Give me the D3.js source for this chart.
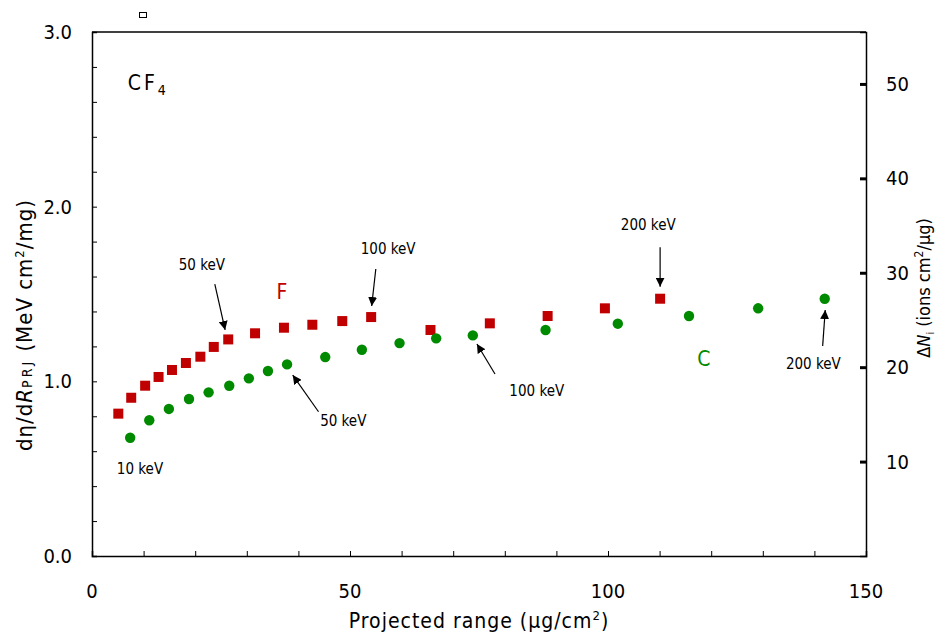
<!DOCTYPE html>
<html>
<head>
<meta charset="utf-8">
<script src="https://cdn.jsdelivr.net/npm/d3@7"></script>
<style>
  body { margin: 0; background: #fff; }
  svg text { font-family: "Liberation Sans Narrow", "DejaVu Sans Condensed", "Liberation Sans", sans-serif; fill: #000; }
</style>
</head>
<body>
<svg id="chart" width="938" height="638"></svg>
<script>
// F points (red squares)
const xF = [5.1, 7.6, 10.3, 12.9, 15.5, 18.2, 21.0, 23.6, 26.4, 31.6, 37.2, 42.7, 48.5, 54.1, 65.6, 77.1, 88.3, 99.4, 110.1];
const yF = [0.815, 0.906, 0.975, 1.025, 1.065, 1.105, 1.141, 1.197, 1.24, 1.275, 1.307, 1.324, 1.345, 1.368, 1.294, 1.332, 1.374, 1.418, 1.473];
// C points (green circles)
const xC = [7.4, 11.1, 14.9, 18.8, 22.6, 26.6, 30.4, 34.1, 37.8, 45.2, 52.3, 59.6, 66.7, 73.8, 87.9, 101.9, 115.7, 129.1, 142.0];
const yC = [0.677, 0.777, 0.842, 0.899, 0.937, 0.975, 1.017, 1.059, 1.097, 1.139, 1.181, 1.219, 1.246, 1.263, 1.294, 1.33, 1.374, 1.418, 1.473];

const xTicks = [0, 50, 100, 150];
const yTicks = [0, 1, 2, 3];
const y2Ticks = [10, 20, 30, 40, 50];

// energy labels: text position, arrow from -> to (data units)
const labelText = ['10 keV', '50 keV', '100 keV', '200 keV', '50 keV', '100 keV', '200 keV'];
const labelPos = [[9.3, 0.498], [21.3, 1.666], [57.4, 1.758], [107.8, 1.895], [48.7, 0.775], [86.2, 0.946], [139.8, 1.103]];
const arrowFrom = [[23.8, 1.557], [55.0, 1.643], [110.1, 1.767], [43.9, 0.826], [78.1, 1.042], [141.6, 1.202]];
const arrowTo = [[25.8, 1.294], [54.2, 1.431], [110.1, 1.542], [38.9, 1.036], [74.6, 1.214], [142.1, 1.408]];

const svg = d3.select('#chart');
const pL = 92, pR = 866, pT = 32, pB = 556;

const x = d3.scaleLinear().domain([0, 150]).range([pL, pR]);
const y = d3.scaleLinear().domain([0, 3]).range([pB, pT]);
const y2 = d3.scaleLinear().domain([0, 55.5]).range([pB, pT]);

const red = '#c00000', green = '#008a00';

// frame top
svg.append('line').attr('x1', pL).attr('x2', pR).attr('y1', pT).attr('y2', pT).attr('stroke', '#000').attr('stroke-width', 1.5);

// x axis, ticks inward
const xAxis = svg.append('g').attr('transform', `translate(0,${pB})`)
    .call(d3.axisTop(x).tickValues(d3.range(0, 151, 10)).tickSize(5).tickFormat(''));
xAxis.select('.domain').attr('stroke-width', 1.5);
svg.append('g').selectAll('text').data(xTicks).enter().append('text')
    .attr('x', d => x(d)).attr('y', pB + 42)
    .attr('text-anchor', 'middle').attr('font-size', 20).text(d => d);

// left axis, ticks inward
const yAxis = svg.append('g').attr('transform', `translate(${pL},0)`)
    .call(d3.axisRight(y).tickValues(d3.range(0, 3.01, 0.2)).tickSize(5).tickFormat(''));
yAxis.select('.domain').attr('stroke-width', 1.5);
svg.append('g').selectAll('text').data(yTicks).enter().append('text')
    .attr('x', pL - 20).attr('y', d => y(d)).attr('dy', '0.35em')
    .attr('text-anchor', 'end').attr('font-size', 20).text(d => d.toFixed(1));

// right axis
const y2Axis = svg.append('g').attr('transform', `translate(${pR},0)`)
    .call(d3.axisLeft(y2).tickValues(y2Ticks).tickSize(6).tickFormat(''));
y2Axis.select('.domain').attr('stroke-width', 1.5);
y2Axis.selectAll('.tick line').attr('stroke-width', 3);
svg.append('g').selectAll('text').data(y2Ticks).enter().append('text')
    .attr('x', pR + 20).attr('y', d => y2(d)).attr('dy', '0.35em')
    .attr('text-anchor', 'start').attr('font-size', 20).text(d => d);
svg.selectAll('.domain').attr('stroke', '#000');

// axis titles
svg.append('text')
    .attr('x', x(75)).attr('y', 628).attr('text-anchor', 'middle').attr('font-size', 21).attr('letter-spacing', 1)
    .call(t => {
        t.append('tspan').text('Projected range (μg/cm');
        t.append('tspan').attr('font-size', 13).attr('dy', -8).text('2');
        t.append('tspan').attr('dy', 8).text(')');
    });

svg.append('text')
    .attr('transform', 'translate(32,325) rotate(-90)').attr('text-anchor', 'middle').attr('font-size', 22).attr('letter-spacing', 1)
    .call(t => {
        t.append('tspan').text('dη/d');
        t.append('tspan').attr('font-style', 'italic').text('R');
        t.append('tspan').attr('font-size', 14).attr('letter-spacing', 3).text('PRJ');
        t.append('tspan').text('  (MeV cm');
        t.append('tspan').attr('font-size', 13).attr('dy', -8).text('2');
        t.append('tspan').attr('dy', 8).text('/mg)');
    });

svg.append('text')
    .attr('transform', 'translate(930,288) rotate(-90)').attr('text-anchor', 'middle').attr('font-size', 18)
    .call(t => {
        t.append('tspan').text('Δ');
        t.append('tspan').attr('font-style', 'italic').text('N');
        t.append('tspan').attr('font-size', 11).attr('dy', 4).text('i');
        t.append('tspan').attr('dy', -4).text('  (ions cm');
        t.append('tspan').attr('font-size', 12).attr('dy', -7).text('2');
        t.append('tspan').attr('dy', 7).text('/μg)');
    });

// small box above the frame
svg.append('rect').attr('x', 139.5).attr('y', 12.5).attr('width', 7).attr('height', 5)
    .attr('fill', 'none').attr('stroke', '#000').attr('stroke-width', 1);

// CF4
svg.append('text').attr('x', x(10.9)).attr('y', y(2.708)).attr('dy', '0.35em')
    .attr('text-anchor', 'middle').attr('font-size', 21).attr('letter-spacing', 3)
    .call(t => {
        t.append('tspan').text('CF');
        t.append('tspan').attr('font-size', 14).attr('dy', 5).text('4');
    });

// series labels
svg.append('text').attr('x', x(36.8)).attr('y', y(1.513)).attr('dy', '0.35em')
    .attr('text-anchor', 'middle').attr('font-size', 21).style('fill', red).text('F');
svg.append('text').attr('x', x(118.6)).attr('y', y(1.132)).attr('dy', '0.35em')
    .attr('text-anchor', 'middle').attr('font-size', 21).style('fill', green).text('C');

// markers
const s = 10;
svg.append('g').selectAll('rect').data(xF).enter().append('rect')
    .attr('x', d => x(d) - s / 2).attr('y', (d, i) => y(yF[i]) - s / 2)
    .attr('width', s).attr('height', s).attr('fill', red);
svg.append('g').selectAll('circle').data(xC).enter().append('circle')
    .attr('cx', d => x(d)).attr('cy', (d, i) => y(yC[i])).attr('r', 5.2).attr('fill', green);

// annotation labels and arrows
svg.append('defs').append('marker')
    .attr('id', 'head').attr('viewBox', '0 0 10 10').attr('refX', 10).attr('refY', 5)
    .attr('markerWidth', 9).attr('markerHeight', 9).attr('markerUnits', 'userSpaceOnUse')
    .attr('orient', 'auto')
    .append('path').attr('d', 'M0,0L10,5L0,10z').attr('fill', '#000');

svg.append('g').selectAll('text').data(labelText).enter().append('text')
    .attr('x', (d, i) => x(labelPos[i][0])).attr('y', (d, i) => y(labelPos[i][1])).attr('dy', '0.35em')
    .attr('text-anchor', 'middle').attr('font-size', 15).text(d => d);

svg.append('g').selectAll('line').data(arrowFrom).enter().append('line')
    .attr('x1', d => x(d[0])).attr('y1', d => y(d[1]))
    .attr('x2', (d, i) => x(arrowTo[i][0]))
    .attr('y2', (d, i) => y(arrowTo[i][1]))
    .attr('stroke', '#000').attr('stroke-width', 1.2).attr('marker-end', 'url(#head)');
</script>
</body>
</html>
